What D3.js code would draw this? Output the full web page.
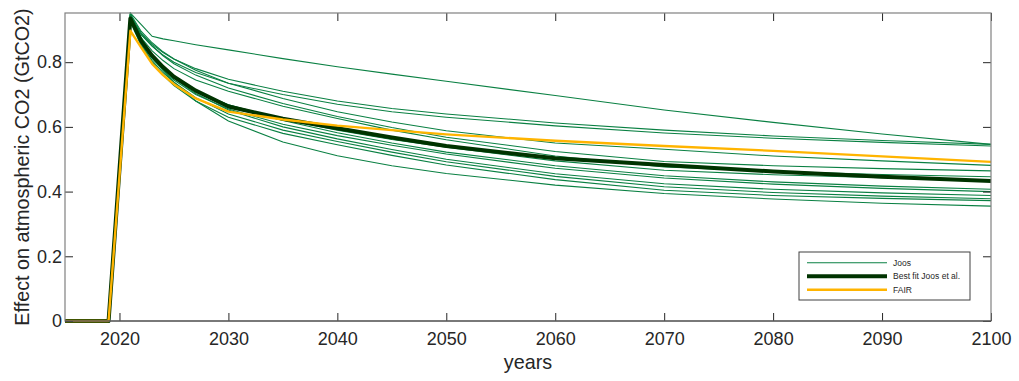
<!DOCTYPE html>
<html>
<head>
<meta charset="utf-8">
<script src="https://cdn.jsdelivr.net/npm/d3@7"></script>
<style>
  html, body { margin: 0; padding: 0; background: #fff; }
  svg { display: block; font-family: "Liberation Sans", Arial, Helvetica, sans-serif; }
</style>
</head>
<body>
<svg id="chart" width="1019" height="381"></svg>
<script>
// Sample years shared by all series (pulse emitted between 2019 and 2021)
const years = [2015, 2019, 2021, 2022, 2023, 2024, 2025, 2027, 2030, 2035, 2040, 2045, 2050, 2060, 2070, 2080, 2090, 2100];

// Joos et al. model responses (GtCO2 remaining per GtCO2 emitted)
const joosA   = [0, 0, 0.952, 0.916, 0.880, 0.872, 0.866, 0.854, 0.838, 0.811, 0.786, 0.763, 0.741, 0.697, 0.652, 0.614, 0.578, 0.546];
const joosL1  = [0, 0, 0.945, 0.890, 0.855, 0.830, 0.810, 0.780, 0.747, 0.710, 0.680, 0.657, 0.640, 0.612, 0.590, 0.572, 0.558, 0.546];
const joosL2  = [0, 0, 0.940, 0.885, 0.850, 0.822, 0.800, 0.768, 0.735, 0.700, 0.670, 0.647, 0.630, 0.603, 0.581, 0.565, 0.552, 0.541];
const joosL3  = [0, 0, 0.950, 0.895, 0.860, 0.832, 0.810, 0.775, 0.735, 0.688, 0.647, 0.615, 0.588, 0.550, 0.531, 0.510, 0.495, 0.481];
const joosL4  = [0, 0, 0.945, 0.885, 0.850, 0.820, 0.795, 0.760, 0.720, 0.672, 0.632, 0.598, 0.568, 0.524, 0.493, 0.480, 0.471, 0.464];
const joosL5  = [0, 0, 0.935, 0.875, 0.835, 0.805, 0.780, 0.745, 0.710, 0.664, 0.626, 0.590, 0.560, 0.510, 0.476, 0.463, 0.453, 0.446];
const joosL6  = [0, 0, 0.930, 0.860, 0.815, 0.780, 0.752, 0.710, 0.668, 0.624, 0.590, 0.561, 0.537, 0.495, 0.466, 0.452, 0.443, 0.436];
const joosL7  = [0, 0, 0.940, 0.870, 0.822, 0.786, 0.756, 0.712, 0.668, 0.620, 0.582, 0.550, 0.522, 0.480, 0.449, 0.430, 0.417, 0.407];
const joosL8  = [0, 0, 0.935, 0.860, 0.812, 0.775, 0.745, 0.700, 0.655, 0.608, 0.573, 0.543, 0.516, 0.472, 0.442, 0.423, 0.410, 0.400];
const joosL9  = [0, 0, 0.945, 0.870, 0.820, 0.780, 0.750, 0.703, 0.652, 0.600, 0.563, 0.530, 0.500, 0.455, 0.424, 0.407, 0.396, 0.388];
const joosL10 = [0, 0, 0.930, 0.855, 0.805, 0.768, 0.738, 0.690, 0.640, 0.590, 0.555, 0.522, 0.492, 0.447, 0.415, 0.397, 0.386, 0.378];
const joosL11 = [0, 0, 0.925, 0.850, 0.800, 0.760, 0.728, 0.680, 0.630, 0.580, 0.545, 0.512, 0.482, 0.437, 0.404, 0.388, 0.379, 0.372];
const joosL12 = [0, 0, 0.950, 0.875, 0.820, 0.775, 0.738, 0.680, 0.618, 0.553, 0.511, 0.480, 0.456, 0.420, 0.394, 0.377, 0.364, 0.355];
const joosModels = [joosA, joosL1, joosL2, joosL3, joosL4, joosL5, joosL6, joosL7, joosL8, joosL9, joosL10, joosL11, joosL12];

// Best fit to the Joos et al. ensemble
const bestFit = [0, 0, 0.935, 0.865, 0.820, 0.785, 0.755, 0.712, 0.663, 0.625, 0.596, 0.567, 0.541, 0.503, 0.482, 0.462, 0.446, 0.433];

// FAIR simple climate model response
const fair = [0, 0, 0.897, 0.845, 0.795, 0.760, 0.732, 0.688, 0.647, 0.623, 0.604, 0.590, 0.577, 0.557, 0.541, 0.526, 0.509, 0.492];

// Axis ticks
const xTicks = [2020, 2030, 2040, 2050, 2060, 2070, 2080, 2090, 2100];
const yTicks = [0, 0.2, 0.4, 0.6, 0.8];
const yTickLabels = ["0", "0.2", "0.4", "0.6", "0.8"];

// Legend entries
const legendLabels = ["Joos", "Best fit Joos et al.", "FAIR"];

const colors = { joos: "#0a8043", best: "#003300", fair: "#ffb400" };

const svg = d3.select("#chart");
const plot = { left: 65, right: 991, top: 13, bottom: 321 };

const x = d3.scaleLinear().domain([2015, 2100]).range([plot.left, plot.right]);
const y = d3.scaleLinear().domain([0, 0.952]).range([plot.bottom, plot.top]);

const line = d3.line()
  .x((d, i) => x(years[i]))
  .y(d => y(d));

// Data lines
const lines = svg.append("g");
joosModels.forEach(s => {
  lines.append("path").datum(s)
    .attr("d", line)
    .attr("fill", "none")
    .attr("stroke", colors.joos)
    .attr("stroke-width", 1.1);
});
lines.append("path").datum(bestFit)
  .attr("d", line).attr("fill", "none")
  .attr("stroke", colors.best).attr("stroke-width", 4)
  .attr("stroke-linejoin", "round");
lines.append("path").datum(fair)
  .attr("d", line).attr("fill", "none")
  .attr("stroke", colors.fair).attr("stroke-width", 2.4)
  .attr("stroke-linejoin", "round");

// Axes with inward ticks on all four sides
const tickLen = 8;
const styleAxis = g => {
  g.selectAll(".domain").remove();
  g.selectAll(".tick line").attr("stroke", "#262626");
  g.selectAll(".tick text").attr("fill", "#262626").attr("font-size", 18);
};

svg.append("g")
  .attr("transform", `translate(0,${plot.bottom})`)
  .call(d3.axisBottom(x).tickValues(xTicks).tickFormat(d3.format("d"))
    .tickSizeInner(-tickLen).tickSizeOuter(0).tickPadding(11))
  .call(styleAxis);

svg.append("g")
  .attr("transform", `translate(0,${plot.top})`)
  .call(d3.axisTop(x).tickValues(xTicks).tickFormat("")
    .tickSizeInner(-tickLen).tickSizeOuter(0))
  .call(styleAxis);

svg.append("g")
  .attr("transform", `translate(${plot.left},0)`)
  .call(d3.axisLeft(y).tickValues(yTicks).tickFormat((d, i) => yTickLabels[i])
    .tickSizeInner(-tickLen).tickSizeOuter(0).tickPadding(3))
  .call(styleAxis);

svg.append("g")
  .attr("transform", `translate(${plot.right},0)`)
  .call(d3.axisRight(y).tickValues(yTicks).tickFormat("")
    .tickSizeInner(-tickLen).tickSizeOuter(0))
  .call(styleAxis);

// Plot frame
svg.append("rect")
  .attr("x", plot.left).attr("y", plot.top)
  .attr("width", plot.right - plot.left).attr("height", plot.bottom - plot.top)
  .attr("fill", "none").attr("stroke", "#808080").attr("stroke-width", 1.2);
svg.append("line")
  .attr("x1", plot.left).attr("x2", plot.right)
  .attr("y1", plot.bottom).attr("y2", plot.bottom)
  .attr("stroke", "#404040").attr("stroke-width", 1.2);

// Axis titles
svg.append("text")
  .attr("x", (plot.left + plot.right) / 2).attr("y", 369)
  .attr("text-anchor", "middle").attr("font-size", 19.8).attr("fill", "#262626")
  .text("years");
svg.append("text")
  .attr("transform", `translate(29,${(plot.top + plot.bottom) / 2}) rotate(-90)`)
  .attr("text-anchor", "middle").attr("font-size", 19.8).attr("fill", "#262626")
  .text("Effect on atmospheric CO2 (GtCO2)");

// Legend
const legend = svg.append("g").attr("transform", "translate(799,252)");
legend.append("rect")
  .attr("width", 171).attr("height", 48)
  .attr("fill", "#fff").attr("stroke", "#404040").attr("stroke-width", 1);
const legendStyles = [
  { color: colors.joos, width: 1.1 },
  { color: colors.best, width: 4 },
  { color: colors.fair, width: 2.4 }
];
legendLabels.forEach((label, i) => {
  const ly = 10.7 + i * 13.5;
  legend.append("line")
    .attr("x1", 8).attr("x2", 88).attr("y1", ly).attr("y2", ly)
    .attr("stroke", legendStyles[i].color).attr("stroke-width", legendStyles[i].width);
  legend.append("text")
    .attr("x", 94).attr("y", ly).attr("dy", "0.35em")
    .attr("font-size", 8.5).attr("fill", "#262626")
    .text(label);
});
</script>
</body>
</html>
